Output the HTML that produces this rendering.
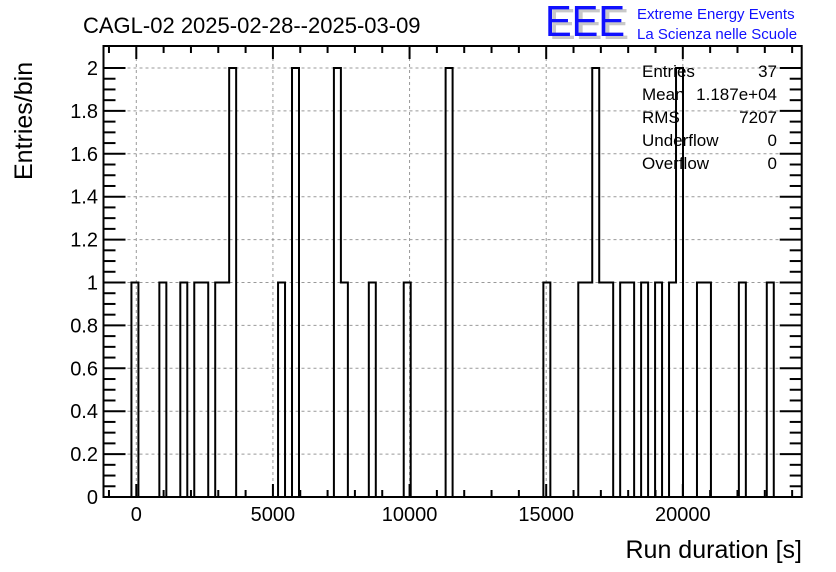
<!DOCTYPE html>
<html><head><meta charset="utf-8"><style>
body{margin:0;background:#fff}
svg{display:block;font-family:"Liberation Sans",sans-serif}
</style></head><body>
<svg id="c" width="836" height="572" viewBox="0 0 836 572">
<rect width="836" height="572" fill="#fff"/>
<text x="83" y="33" font-size="22">CAGL-02 2025-02-28--2025-03-09</text>
<g>
<text x="549" y="39" font-size="44" fill="#c8c8c8" textLength="80" lengthAdjust="spacingAndGlyphs" transform="scale(1,1)">EEE</text>
<text x="545" y="36" font-size="44" fill="#1010ff" textLength="80" lengthAdjust="spacingAndGlyphs">EEE</text>
<text x="637" y="19" font-size="15" fill="#1010ff">Extreme Energy Events</text>
<text x="637" y="39" font-size="15" fill="#1010ff">La Scienza nelle Scuole</text>
</g>
<g id="grid"></g>
<g id="hist"></g>
<g id="axes"></g>
<g font-size="17">
<text x="642" y="77">Entries</text><text x="777" y="77" text-anchor="end">37</text>
<text x="642" y="100">Mean</text><text x="777" y="100" text-anchor="end">1.187e+04</text>
<text x="642" y="123">RMS</text><text x="777" y="123" text-anchor="end">7207</text>
<text x="642" y="146">Underflow</text><text x="777" y="146" text-anchor="end">0</text>
<text x="642" y="169">Overflow</text><text x="777" y="169" text-anchor="end">0</text>
</g>
<text transform="translate(32,180) rotate(-90)" font-size="25">Entries/bin</text>
<text x="802" y="558" font-size="25" text-anchor="end">Run duration [s]</text>
</svg>
<script>
const xMin=-1200, binWidth=255.5, nBins=100;
const filledBins=[4,8,11,13,14,16,17,18,25,27,33,34,38,43,49,63,68,69,70,71,72,74,75,77,79,81,82,85,86,91,95];
const filledCounts=[1,1,1,1,1,1,1,2,1,2,2,1,1,1,2,1,1,1,2,1,1,1,1,1,1,1,2,1,1,1,1];
const xTicks=[0,5000,10000,15000,20000];
const yTicks=[0,0.2,0.4,0.6,0.8,1,1.2,1.4,1.6,1.8,2];
const yTickLabels=["0","0.2","0.4","0.6","0.8","1","1.2","1.4","1.6","1.8","2"];
const L=103.5,R=801.7,T=46,B=497;
const xMax=xMin+binWidth*nBins;
const X=v=>L+(v-xMin)/(xMax-xMin)*(R-L);
const Y=v=>B-v*(B-68)/2;
const NS="http://www.w3.org/2000/svg";
function mk(t,a,p){const e=document.createElementNS(NS,t);for(const k in a)e.setAttribute(k,a[k]);p.appendChild(e);return e;}
const counts=new Array(nBins).fill(0);
filledBins.forEach((b,i)=>counts[b]=filledCounts[i]);
const grid=document.getElementById('grid'),hist=document.getElementById('hist'),axes=document.getElementById('axes');
xTicks.forEach(v=>{const g=mk('line',{x1:X(v),x2:X(v),y1:T,y2:B,stroke:'#999','stroke-dasharray':'3,3','stroke-width':1},grid);

});
yTicks.forEach(v=>{if(v===0)return;const g=mk('line',{x1:L,x2:R,y1:Y(v),y2:Y(v),stroke:'#999','stroke-dasharray':'3,3','stroke-width':1},grid);

});
let d='M'+X(xMin)+' '+Y(0);let prev=0;
for(let i=0;i<nBins;i++){const x=X(xMin+i*binWidth);if(counts[i]!==prev){d+=' L'+x+' '+Y(prev)+' L'+x+' '+Y(counts[i]);prev=counts[i];}}
d+=' L'+X(xMax)+' '+Y(prev)+' L'+X(xMax)+' '+Y(0);
const p=mk('path',{d:d,fill:'none',stroke:'#000','stroke-width':2},hist);


const fr=mk('rect',{x:L,y:T,width:R-L,height:B-T,fill:'none',stroke:'#000','stroke-width':2},axes);


for(let v=-1000;v<=24000;v+=1000){const x=X(v);const len=v%5000===0?13:7;
mk('line',{x1:x,x2:x,y1:B,y2:B-len,stroke:'#000','stroke-width':2},axes);
mk('line',{x1:x,x2:x,y1:T,y2:T+len,stroke:'#000','stroke-width':2},axes);}
for(let k=0;k<=40;k++){const v=k*0.05;const y=Y(v);const len=k%4===0?22:12;
mk('line',{x1:L,x2:L+len,y1:y,y2:y,stroke:'#000','stroke-width':2},axes);
mk('line',{x1:R,x2:R-len,y1:y,y2:y,stroke:'#000','stroke-width':2},axes);}
xTicks.forEach(v=>{const t=mk('text',{x:X(v),y:521,'font-size':20,'text-anchor':'middle'},axes);t.textContent=String(v);

});
yTicks.forEach((v,i)=>{const t=mk('text',{x:98,y:Y(v)+7,'font-size':20,'text-anchor':'end'},axes);t.textContent=yTickLabels[i];

});
</script>
</body></html>
